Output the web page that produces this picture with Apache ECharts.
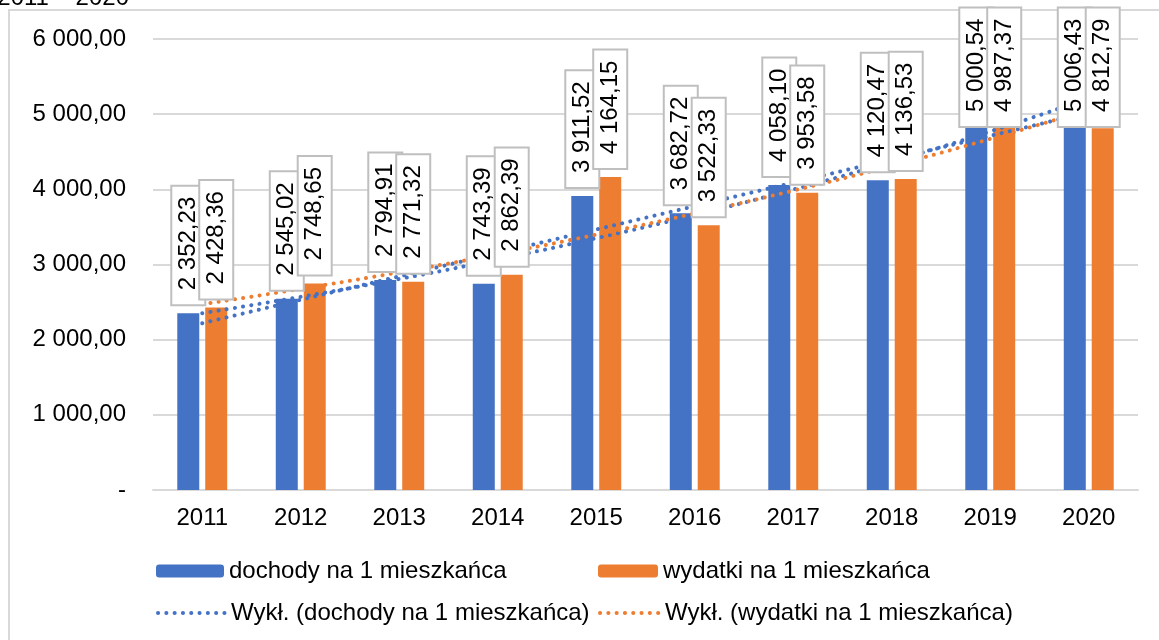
<!DOCTYPE html>
<html lang="pl">
  <head>
    <meta charset="UTF-8" />
    <title>Dochody i wydatki na 1 mieszkańca</title>
    <style>
      html,
      body {
        margin: 0;
        padding: 0;
        background: #fff;
      }
      #chart {
        width: 1159px;
        height: 640px;
      }
    </style>
  </head>
  <body>
    <div id="chart"></div>
    <script src="https://cdn.jsdelivr.net/npm/echarts@6/dist/echarts.min.js"></script>
    <script>
      const years = ["2011", "2012", "2013", "2014", "2015", "2016", "2017", "2018", "2019", "2020"];
      const dochody = [2352.23, 2545.02, 2794.91, 2743.39, 3911.52, 3682.72, 4058.1, 4120.47, 5000.54, 5006.43];
      const wydatki = [2428.36, 2748.65, 2771.32, 2862.39, 4164.15, 3522.33, 3953.58, 4136.53, 4987.37, 4812.79];
      // trend lines (exponential + linear for dochody, exponential for wydatki)
      const trendDochodyWykl = [2352, 2570, 2807, 3067, 3350, 3659, 3998, 4367, 4770, 5211];
      const trendDochodyLin = [2219, 2531, 2842, 3154, 3466, 3777, 4089, 4401, 4712, 5024];
      const trendWydatkiWykl = [2471, 2676, 2897, 3137, 3397, 3679, 3983, 4313, 4671, 5058];
      const yTicks = [0, 1000, 2000, 3000, 4000, 5000, 6000];

      const FONT = "'Liberation Sans', Arial, sans-serif";
      const FS = 24;
      const BLUE = "#4472C4";
      const ORANGE = "#ED7D31";

      function fmt(v) {
        if (v === 0) return "-";
        const parts = v.toFixed(2).split(".");
        return parts[0].replace(/\B(?=(\d{3})+(?!\d))/g, " ") + "," + parts[1];
      }

      const barLabel = {
        show: true,
        position: ["50%", -9],
        rotate: 90,
        align: "left",
        verticalAlign: "middle",
        formatter: (p) => fmt(p.value),
        fontFamily: FONT,
        fontSize: FS,
        color: "#000",
        backgroundColor: "#fff",
        borderColor: "#bfbfbf",
        borderWidth: 2,
        padding: [4, 10, 4, 14],
      };

      function dotted(color) {
        return {
          color: color,
          width: 4,
          type: [0.1, 8.2],
          cap: "round",
        };
      }

      function legendAt(name, left, top, w, isLine) {
        const l = {
          data: [name],
          left: left,
          top: top,
          padding: 0,
          itemWidth: w,
          itemHeight: 13,
          itemGap: 0,
          textStyle: { fontFamily: FONT, fontSize: FS, color: "#000", lineHeight: 26 },
          selectedMode: false,
        };
        if (isLine) {
          l.itemStyle = { opacity: 0 };
          l.lineStyle = { width: 4 };
        }
        return l;
      }

      // labels are drawn by a see-through copy of the bars on an identical grid, so they sit above the trend lines
      function labelBars(data, idx) {
        return {
          name: "label" + idx,
          type: "bar",
          xAxisIndex: 1,
          yAxisIndex: 1,
          data: data,
          barWidth: 22,
          barGap: "27%",
          itemStyle: { color: "rgba(0,0,0,0)" },
          label: barLabel,
          silent: true,
          z: 10,
        };
      }

      const gridBox = { left: 153, right: 21, top: 39, bottom: 150 };

      const chart = echarts.init(document.getElementById("chart"));
      const option = {
        animation: false,
        backgroundColor: "#fff",
        textStyle: { fontFamily: FONT },
        graphic: [
          {
            type: "rect",
            shape: { x: 9, y: 10, width: 1300, height: 800 },
            style: { fill: "none", stroke: "#d9d9d9", lineWidth: 2 },
            silent: true,
            z: -1,
          },
          {
            type: "text",
            style: {
              text: "w latach 2011 – 2020",
              x: 129,
              y: 10,
              align: "right",
              verticalAlign: "bottom",
              font: FS + "px " + FONT,
              fill: "#000",
            },
          },
        ],
        grid: [Object.assign({}, gridBox), Object.assign({}, gridBox)],
        legend: [
          legendAt("dochody na 1 mieszkańca", 156, 558, 68, false),
          legendAt("wydatki na 1 mieszkańca", 598, 558, 60, false),
          legendAt("Wykł. (dochody na 1 mieszkańca)", 156, 600, 68, true),
          legendAt("Wykł. (wydatki na 1 mieszkańca)", 598, 600, 60, true),
        ],
        xAxis: [
          {
            type: "category",
            data: years,
            axisLine: { lineStyle: { color: "#d9d9d9", width: 2 } },
            axisTick: { show: false },
            axisLabel: { fontFamily: FONT, fontSize: FS, color: "#000", margin: 16 },
          },
          { type: "category", data: years, gridIndex: 1, show: false },
        ],
        yAxis: [
          {
            type: "value",
            min: yTicks[0],
            max: yTicks[yTicks.length - 1],
            interval: 1000,
            axisLine: { show: false },
            axisTick: { show: false },
            splitLine: { lineStyle: { color: "#d9d9d9", width: 2 } },
            axisLabel: {
              fontFamily: FONT,
              fontSize: FS,
              color: "#000",
              margin: 27,
              formatter: fmt,
            },
          },
          {
            type: "value",
            gridIndex: 1,
            min: yTicks[0],
            max: yTicks[yTicks.length - 1],
            interval: 1000,
            show: false,
          },
        ],
        series: [
          {
            name: "dochody na 1 mieszkańca",
            type: "bar",
            data: dochody,
            barWidth: 22,
            barGap: "27%",
            itemStyle: { color: BLUE },
          },
          {
            name: "wydatki na 1 mieszkańca",
            type: "bar",
            data: wydatki,
            barWidth: 22,
            barGap: "27%",
            itemStyle: { color: ORANGE },
          },
          {
            name: "Wykł. (dochody na 1 mieszkańca)",
            type: "line",
            data: trendDochodyWykl,
            symbol: "none",
            smooth: true,
            lineStyle: dotted(BLUE),
            itemStyle: { color: BLUE },
            z: 3,
          },
          {
            name: "Liniowy (dochody na 1 mieszkańca)",
            type: "line",
            data: trendDochodyLin,
            symbol: "none",
            lineStyle: dotted(BLUE),
            itemStyle: { color: BLUE },
            z: 3,
          },
          {
            name: "Wykł. (wydatki na 1 mieszkańca)",
            type: "line",
            data: trendWydatkiWykl,
            symbol: "none",
            smooth: true,
            lineStyle: dotted(ORANGE),
            itemStyle: { color: ORANGE },
            z: 3,
          },
          labelBars(dochody, 1),
          labelBars(wydatki, 2),
        ],
      };
      chart.setOption(option);

      // Excel pushed boxes that would leave the frame down so they start at its top edge (y=10)
      const BOX_LEN = 116;
      const FRAME_TOP = 10;
      function clampItems(values) {
        return values.map((v) => {
          const barTop = chart.convertToPixel({ yAxisIndex: 0 }, v);
          const boxTop = barTop - 9 - BOX_LEN;
          if (boxTop >= FRAME_TOP) return v;
          return { value: v, label: { position: ["50%", FRAME_TOP + BOX_LEN - barTop] } };
        });
      }
      chart.setOption({
        series: [
          { name: "label1", data: clampItems(dochody) },
          { name: "label2", data: clampItems(wydatki) },
        ],
      });
    </script>
  </body>
</html>
